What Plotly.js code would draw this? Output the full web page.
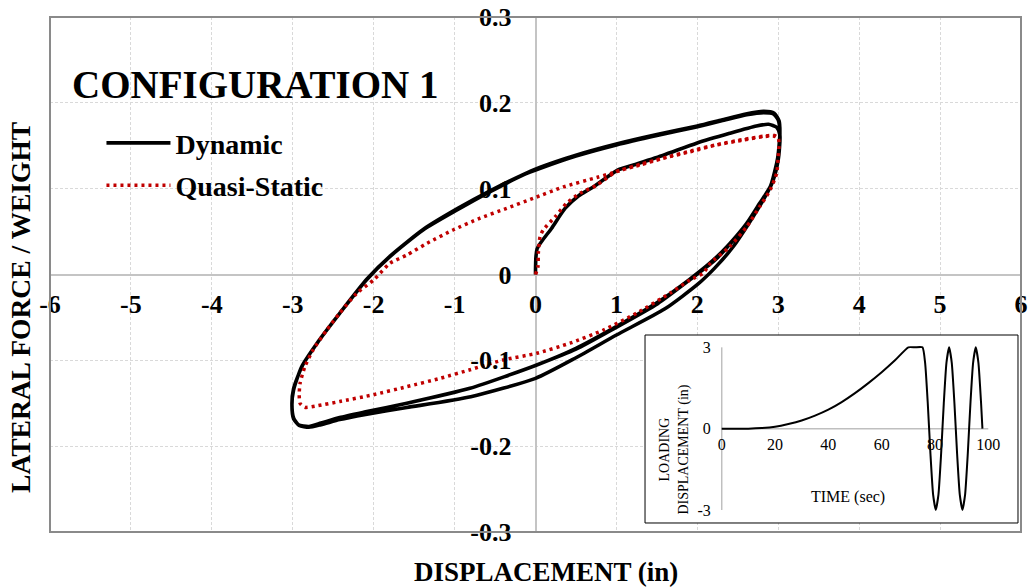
<!DOCTYPE html>
<html>
<head>
<meta charset="utf-8">
<script src="https://cdn.plot.ly/plotly-3.0.1.min.js"></script>
<style>html,body{margin:0;padding:0;background:#fff;}#chart{width:1029px;height:587px;}</style>
</head>
<body>
<div id="chart"></div>
<script>
// ---------- data ----------
const dynamicX = [
  0, 0.02, 0.20, 0.365, 0.53, 0.714, 1.02, 1.21, 1.58, 1.99, 2.40, 2.73, 2.88, 2.98, 3.02,
  3.00, 2.93, 2.81, 2.64, 2.44, 2.22, 2.01, 1.60, 1.00, 0.50, 0.00, -0.80, -1.59, -2.10, -2.42, -2.65, -2.80, -2.92, -2.99, -3.01,
  -2.99, -2.89, -2.70, -2.42, -2.09, -1.80, -1.39, -0.97, -0.56, -0.15, 0.06, 0.50, 1.00, 1.50, 1.99, 2.30, 2.61, 2.82, 2.94, 3.00, 3.02,
  3.00, 2.98, 2.90, 2.77, 2.61, 2.40, 2.20, 1.90, 1.50, 0.96, 0.50, 0.015, -0.81, -1.59, -2.10, -2.42, -2.65, -2.80, -2.93, -2.99, -3.01,
  -2.99, -2.88, -2.69, -2.41, -2.08, -1.79, -1.38, -0.96, -0.55, -0.14, 0.06, 0.50, 1.00, 1.50, 2.00, 2.30, 2.60, 2.82, 2.95, 3.01, 3.02,
  2.99, 2.91, 2.78, 2.62, 2.41, 2.21, 1.91, 1.51, 0.97, 0.50, 0.00
];
const dynamicY = [
  0, 0.030, 0.054, 0.077, 0.0915, 0.102, 0.1218, 0.1276, 0.139, 0.153, 0.1645, 0.173, 0.175, 0.1715, 0.1625,
  0.134, 0.108, 0.086, 0.060, 0.032, 0.008, -0.011, -0.040, -0.0705, -0.097, -0.121, -0.1424, -0.155, -0.163, -0.169, -0.175, -0.178, -0.176, -0.168, -0.152,
  -0.1346, -0.1074, -0.080, -0.0452, -0.0064, 0.0207, 0.0518, 0.0751, 0.0965, 0.116, 0.1237, 0.138, 0.151, 0.162, 0.172, 0.179, 0.186, 0.1885, 0.187, 0.180, 0.166,
  0.140, 0.1295, 0.102, 0.083, 0.0597, 0.036, 0.017, -0.006, -0.033, -0.0627, -0.086, -0.1054, -0.1326, -0.150, -0.160, -0.1666, -0.173, -0.177, -0.175, -0.167, -0.151,
  -0.133, -0.106, -0.079, -0.044, -0.005, 0.022, 0.053, 0.077, 0.098, 0.117, 0.125, 0.139, 0.152, 0.163, 0.173, 0.180, 0.187, 0.190, 0.188, 0.179, 0.164,
  0.133, 0.104, 0.084, 0.060, 0.036, 0.016, -0.006, -0.034, -0.063, -0.087, -0.106
];
const quasiStaticX = [
  0.00, 0.03, 0.035, 0.056, 0.096, 0.24, 0.385, 0.55, 0.756, 1.00, 1.29, 1.58, 1.91, 2.24, 2.57, 2.82, 2.94, 3.00,
  3.01, 3.00, 2.98, 2.90, 2.77, 2.61, 2.40, 2.16, 2.07, 1.91, 1.66, 1.25, 0.84, 0.426, 0.015, -0.40, -0.81, -1.18, -1.59, -2.00, -2.42, -2.70, -2.85, -2.91,
  -2.92, -2.91, -2.85, -2.75, -2.58, -2.42, -2.21, -2.00, -1.80, -1.59, -1.34, -1.02, -0.69, -0.356, -0.027, 0.344, 0.756, 1.00, 1.30, 1.60, 1.92, 2.25, 2.58, 2.82, 2.95, 3.01
];
const quasiStaticY = [
  0.000, 0.009, 0.025, 0.044, 0.052, 0.067, 0.083, 0.0946, 0.104, 0.1198, 0.1276, 0.1354, 0.143, 0.151, 0.1567, 0.1606, 0.1614, 0.1587,
  0.153, 0.137, 0.118, 0.0984, 0.079, 0.0557, 0.0324, 0.013, 0.0014, -0.0064, -0.0219, -0.045, -0.0647, -0.080, -0.0918, -0.0996, -0.111, -0.121, -0.1307, -0.140, -0.148, -0.153, -0.1547, -0.150,
  -0.140, -0.127, -0.1074, -0.088, -0.0647, -0.045, -0.0219, -0.0064, 0.013, 0.0227, 0.0364, 0.0518, 0.0655, 0.0771, 0.0888, 0.102, 0.113, 0.1198, 0.1285, 0.1362, 0.1440, 0.1515, 0.1575, 0.1612, 0.1620, 0.159
];
const timeSec = [0, 5, 10, 15, 20, 25, 30, 35, 40, 45, 50, 55, 60, 65, 70, 72.5, 75.3, 76.3, 77.3, 78.3, 79.3, 80.3, 81.3, 82.3, 83.3, 84.3, 85.3, 86.3, 87.3, 88.3, 89.3, 90.3, 91.3, 92.3, 93.3, 94.3, 95.3, 96.3, 97.3, 97.8];
const loadingDisp = [0, 0, 0, 0.02, 0.07, 0.17, 0.30, 0.48, 0.70, 0.98, 1.31, 1.68, 2.08, 2.52, 3.0, 3.0, 3.0, 2.43, 0.93, -0.93, -2.43, -3.0, -2.43, -0.93, 0.93, 2.43, 3.0, 2.43, 0.93, -0.93, -2.43, -3.0, -2.43, -0.93, 0.93, 2.43, 3.0, 2.43, 0.93, 0.0];

const seriesNames = ['Dynamic', 'Quasi-Static'];
const xTickVals = [-6, -5, -4, -3, -2, -1, 0, 1, 2, 3, 4, 5, 6];
const xTickText = ['-6', '-5', '-4', '-3', '-2', '-1', '0', '1', '2', '3', '4', '5', '6'];
const yTickVals = [-0.3, -0.2, -0.1, 0, 0.1, 0.2, 0.3];
const yTickText = ['-0.3', '-0.2', '-0.1', '0', '0.1', '0.2', '0.3'];
const insetXTickVals = [0, 20, 40, 60, 80, 100];
const insetXTickText = ['0', '20', '40', '60', '80', '100'];
const insetYTickVals = [-3, 0, 3];
const insetYTickText = ['-3', '0', '3'];

// ---------- chart ----------
const SERIF = '"Liberation Serif", "Times New Roman", Times, serif';

const traces = [
  {
    x: dynamicX, y: dynamicY, name: seriesNames[0], type: 'scatter', mode: 'lines',
    line: {color: '#000000', width: 3.6, shape: 'spline', smoothing: 0.6},
    xaxis: 'x', yaxis: 'y', legendgroup: 'a'
  },
  {
    x: quasiStaticX, y: quasiStaticY, name: seriesNames[1], type: 'scatter', mode: 'lines',
    line: {color: '#c00000', width: 3.5, dash: '3px,4px', shape: 'spline', smoothing: 0.6},
    xaxis: 'x', yaxis: 'y', legendgroup: 'b'
  },
  {
    x: timeSec, y: loadingDisp, name: 'Loading', type: 'scatter', mode: 'lines',
    line: {color: '#000000', width: 2, shape: 'spline', smoothing: 0.5},
    xaxis: 'x2', yaxis: 'y2', showlegend: false
  }
];

const layout = {
  width: 1029, height: 587,
  margin: {l: 50, r: 8, t: 17, b: 55, pad: 0},
  paper_bgcolor: '#ffffff', plot_bgcolor: '#ffffff',
  font: {family: SERIF, color: '#000000'},
  hovermode: false,
  title: {
    text: 'CONFIGURATION 1',
    font: {family: SERIF, size: 39, weight: 'bold', color: '#000'},
    xref: 'container', yref: 'container',
    x: 72 / 1029, xanchor: 'left',
    y: 1 - 84 / 587, yanchor: 'middle'
  },
  showlegend: true,
  legend: {
    x: 0.053, y: 0.8036, xanchor: 'left', yanchor: 'top',
    bgcolor: 'rgba(0,0,0,0)', borderwidth: 0,
    font: {family: SERIF, size: 28, weight: 'bold', color: '#000'},
    itemwidth: 64, traceorder: 'grouped', tracegroupgap: 3
  },
  xaxis: {
    range: [-6, 6], anchor: 'free', position: 0.5,
    tickmode: 'array', tickvals: xTickVals, ticktext: xTickText,
    ticks: '', showline: false,
    showgrid: true, gridcolor: '#d9d9d9', gridwidth: 1, griddash: '3px,2px',
    zeroline: true, zerolinecolor: '#c4c4c4', zerolinewidth: 2,
    tickfont: {family: SERIF, size: 26, weight: 'bold', color: '#000'},
    ticklabelstandoff: 11
  },
  yaxis: {
    range: [-0.3, 0.3], anchor: 'free', position: 0.5,
    tickmode: 'array', tickvals: yTickVals, ticktext: yTickText,
    ticks: '', showline: false,
    showgrid: true, gridcolor: '#d9d9d9', gridwidth: 1, griddash: '3px,2px',
    zeroline: true, zerolinecolor: '#c4c4c4', zerolinewidth: 2,
    tickfont: {family: SERIF, size: 26, weight: 'bold', color: '#000'},
    ticklabelstandoff: 24
  },
  xaxis2: {
    domain: [0.6128, 0.9969], range: [-28.77, 111.14],
    anchor: 'free', position: 0.2,
    tickmode: 'array', tickvals: insetXTickVals, ticktext: insetXTickText,
    ticks: '', showline: false, showgrid: false, zeroline: false,
    tickfont: {family: SERIF, size: 16, color: '#000'},
    ticklabelstandoff: 4
  },
  yaxis2: {
    domain: [0.01748, 0.38252], range: [-3.48, 3.455],
    anchor: 'free', position: 0.6918,
    tickmode: 'array', tickvals: insetYTickVals, ticktext: insetYTickText,
    ticks: '', showline: false, showgrid: false, zeroline: false,
    tickfont: {family: SERIF, size: 16, color: '#000'},
    ticklabelstandoff: 11
  },
  shapes: [
    // main plot border
    {type: 'rect', xref: 'paper', yref: 'paper', x0: 0, x1: 1, y0: 0, y1: 1,
     line: {color: '#8a8a8a', width: 2}, fillcolor: 'rgba(0,0,0,0)', layer: 'above'},
    // inset box border
    {type: 'rect', xref: 'paper', yref: 'paper', x0: 0.6128, x1: 0.9969, y0: 0.01748, y1: 0.38252,
     line: {color: '#000000', width: 1}, fillcolor: 'rgba(0,0,0,0)', layer: 'above'},
    // inset axis lines
    {type: 'line', xref: 'x2', yref: 'y2', x0: 0, x1: 0, y0: -3, y1: 3,
     line: {color: '#bfbfbf', width: 1.5}, layer: 'below'},
    {type: 'line', xref: 'x2', yref: 'y2', x0: 0, x1: 100, y0: 0, y1: 0,
     line: {color: '#bfbfbf', width: 1.5}, layer: 'below'}
  ],
  annotations: [
    {text: 'DISPLACEMENT (in)', xref: 'paper', yref: 'paper', x: 0.5108, y: -0.0777,
     xanchor: 'center', yanchor: 'middle', showarrow: false,
     font: {family: SERIF, size: 27, weight: 'bold', color: '#000'}},
    {text: 'LATERAL FORCE / WEIGHT', xref: 'paper', yref: 'paper', x: -0.0299, y: 0.4369,
     xanchor: 'center', yanchor: 'middle', textangle: -90, showarrow: false,
     font: {family: SERIF, size: 27.5, weight: 'bold', color: '#000'}},
    {text: 'TIME (sec)', xref: 'paper', yref: 'paper', x: 0.8218, y: 0.0685,
     xanchor: 'center', yanchor: 'middle', showarrow: false,
     font: {family: SERIF, size: 16, color: '#000'}},
    {text: 'LOADING<br>DISPLACEMENT (in)', xref: 'paper', yref: 'paper', x: 0.6426, y: 0.160,
     xanchor: 'center', yanchor: 'middle', textangle: -90, showarrow: false, align: 'center',
     font: {family: SERIF, size: 14, color: '#000'}}
  ]
};

Plotly.newPlot('chart', traces, layout, {displayModeBar: false, staticPlot: true});
</script>
</body>
</html>
